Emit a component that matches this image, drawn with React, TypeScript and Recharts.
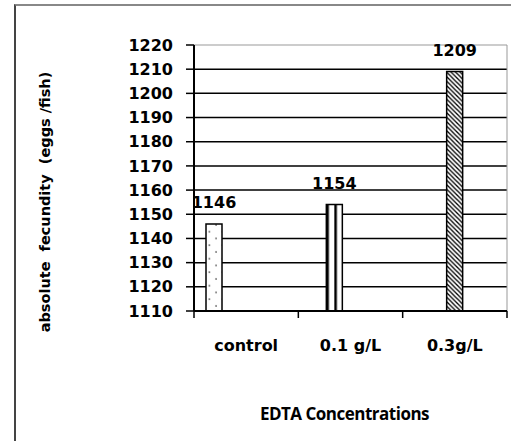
import {
  BarChart,
  Bar,
  XAxis,
  YAxis,
  CartesianGrid,
  LabelList,
  ReferenceArea,
} from "recharts";

// categories on the x axis
const categories = ["control", "0.1 g/L", "0.3g/L"];
// absolute fecundity (eggs/fish) per treatment
const controlValues = [1146, null, null];
const lowValues = [null, 1154, null];
const highValues = [null, null, 1209];
// y axis ticks
const yTicks = [1110, 1120, 1130, 1140, 1150, 1160, 1170, 1180, 1190, 1200, 1210, 1220];

const data = categories.map((name, i) => ({
  name,
  control: controlValues[i],
  low: lowValues[i],
  high: highValues[i],
}));

const tickFont = { fontFamily: "DejaVu Sans", fontWeight: 700, fontSize: 16, fill: "#000" };
const X_TICK_MARGIN = 29;

// category label plus the Excel-style tick mark between categories
function CategoryTick(props: any) {
  const { x, y, payload, index } = props;
  const axisY = y - X_TICK_MARGIN;
  const half = payload.offset || 0;
  return (
    <g>
      {index === 0 && (
        <line x1={x - half} x2={x - half} y1={axisY} y2={axisY + 7} stroke="#000" strokeWidth={1.5} />
      )}
      <line x1={x + half} x2={x + half} y1={axisY} y2={axisY + 7} stroke="#000" strokeWidth={1.5} />
      <text x={x} y={y} dy="0.71em" textAnchor="middle" {...tickFont}>
        {payload.value}
      </text>
    </g>
  );
}

function YLabel(props: any) {
  const { viewBox } = props;
  const cx = viewBox.x + 29;
  const cy = viewBox.y + viewBox.height / 2 + 24;
  return (
    <text
      x={cx}
      y={cy}
      transform={`rotate(-90, ${cx}, ${cy})`}
      textAnchor="middle"
      dominantBaseline="central"
      fontFamily="DejaVu Sans"
      fontWeight={700}
      fontSize={14.5}
      fill="#000"
      xmlSpace="preserve"
    >
      {"absolute  fecundity  (eggs /fish)"}
    </text>
  );
}

export default function App() {
  return (
    <div
      style={{
        position: "absolute",
        left: 14,
        top: 4,
        width: 520,
        height: 460,
        borderLeft: "2px solid #444",
        borderTop: "2px solid #888",
        background: "#fff",
      }}
    >
      <BarChart
        width={495}
        height={435}
        data={data}
        margin={{ top: 39, right: 4, left: 0, bottom: 0 }}
        barGap={0}
        barSize={16}
      >
        <defs>
          <pattern id="dots" patternUnits="userSpaceOnUse" width={13.2} height={13.5}>
            <rect width={13.2} height={13.5} fill="#fff" />
            <circle cx={2} cy={3} r={0.8} fill="#222" />
            <circle cx={8.6} cy={9.7} r={0.8} fill="#222" />
          </pattern>
          <pattern
            id="vstripes"
            patternUnits="objectBoundingBox"
            patternContentUnits="objectBoundingBox"
            width={0.5}
            height={1}
          >
            <rect x={0} y={0} width={0.5} height={1} fill="#fff" />
            <rect x={0} y={0} width={0.16} height={1} fill="#000" />
          </pattern>
          <pattern id="hatch" patternUnits="userSpaceOnUse" width={4.5} height={4.5}>
            <rect width={4.5} height={4.5} fill="#fff" />
            <path d="M0,0 L4.5,4.5 M-1,3.5 L1,5.5 M3.5,-1 L5.5,1" stroke="#000" strokeWidth={1.3} />
          </pattern>
        </defs>
        <CartesianGrid
          vertical={false}
          stroke="#000"
          strokeWidth={1.5}
          horizontalValues={yTicks.slice(0, -1)}
        />
        <ReferenceArea y1={1110} y2={1220} fill="none" stroke="#999" strokeWidth={1} ifOverflow="visible" />
        <XAxis
          dataKey="name"
          axisLine={{ stroke: "#000", strokeWidth: 2 }}
          tickLine={false}
          tickSize={0}
          tickMargin={X_TICK_MARGIN}
          tick={<CategoryTick />}
          height={130}
          label={{
            value: "EDTA Concentrations",
            position: "insideBottom",
            offset: 21,
            dx: -6,
            style: {
              fontFamily: "Open Sans",
              fontWeight: 700,
              fontSize: 17,
              letterSpacing: -0.5,
              fill: "#000",
            },
          }}
        />
        <YAxis
          domain={[1110, 1220]}
          ticks={yTicks}
          interval={0}
          width={178}
          axisLine={{ stroke: "#000", strokeWidth: 2 }}
          tickLine={{ stroke: "#000", strokeWidth: 1.5 }}
          tickSize={8}
          tickMargin={13}
          tick={tickFont}
          label={<YLabel />}
        />
        <Bar dataKey="control" fill="url(#dots)" stroke="#000" strokeWidth={1.5} isAnimationActive={false}>
          <LabelList dataKey="control" position="top" offset={16} style={tickFont} />
        </Bar>
        <Bar dataKey="low" fill="url(#vstripes)" stroke="#000" strokeWidth={1.5} isAnimationActive={false}>
          <LabelList dataKey="low" position="top" offset={16} style={tickFont} />
        </Bar>
        <Bar dataKey="high" fill="url(#hatch)" stroke="#000" strokeWidth={1.5} isAnimationActive={false}>
          <LabelList dataKey="high" position="top" offset={16} style={tickFont} />
        </Bar>
        {/* empty slots that Excel reserved in each group */}
        <Bar dataKey="spacer1" isAnimationActive={false} />
        <Bar dataKey="spacer2" isAnimationActive={false} />
      </BarChart>
    </div>
  );
}
